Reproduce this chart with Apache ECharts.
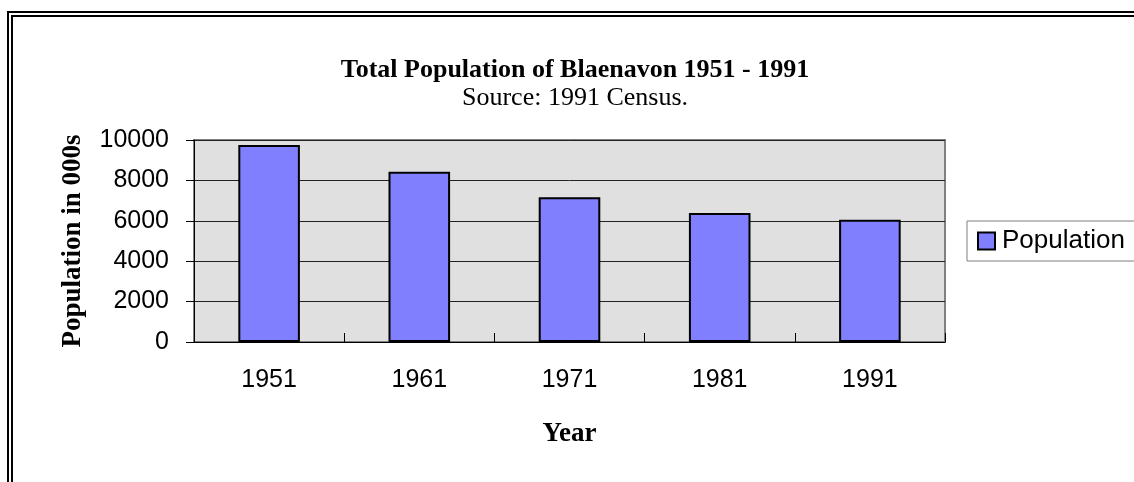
<!DOCTYPE html>
<html>
<head>
<meta charset="utf-8">
<script src="https://cdn.jsdelivr.net/npm/echarts@6/dist/echarts.min.js"></script>
<style>
html,body{margin:0;padding:0;background:#fff;}
#chart{width:1134px;height:482px;}
</style>
</head>
<body>
<div id="chart"></div>
<script>
const years = ['1951', '1961', '1971', '1981', '1991'];
const population = [9750, 8430, 7160, 6390, 6050];
const seriesName = 'Population';
const titleText = 'Total Population of Blaenavon 1951 - 1991';
const subtitleText = 'Source: 1991 Census.';
const xAxisName = 'Year';
const yAxisName = 'Population in 000s';
const yMin = 0, yMax = 10000, yStep = 2000;

const sans = '"Liberation Sans", Arial, sans-serif';
const serif = '"Liberation Serif", "Times New Roman", serif';

const chart = echarts.init(document.getElementById('chart'), null, {renderer: 'canvas'});
chart.setOption({
  animation: false,
  backgroundColor: '#ffffff',
  title: {
    text: titleText,
    subtext: subtitleText,
    left: 570,
    textAlign: 'center',
    top: 51,
    itemGap: 0,
    textStyle: {fontFamily: serif, fontWeight: 'bold', fontSize: 26, color: '#000', lineHeight: 28},
    subtextStyle: {fontFamily: serif, fontWeight: 'normal', fontSize: 26, color: '#000', lineHeight: 28}
  },
  legend: {
    left: 967,
    top: 221,
    orient: 'vertical',
    padding: [7, 10, 7, 10],
    borderColor: '#808080',
    borderWidth: 1,
    backgroundColor: '#fff',
    itemWidth: 17,
    itemHeight: 17,
    icon: 'rect',
    itemStyle: {borderColor: '#000', borderWidth: 2},
    textStyle: {fontFamily: sans, fontSize: 26, color: '#000', padding: [0, 0, 0, 2]},
    data: [seriesName]
  },
  grid: {
    left: 194, right: 189, top: 140, bottom: 140,
    show: true,
    backgroundColor: '#e0e0e0',
    borderColor: '#808080',
    borderWidth: 2
  },
  xAxis: {
    type: 'category',
    data: years,
    boundaryGap: true,
    name: xAxisName,
    nameLocation: 'middle',
    nameGap: 79,
    nameTextStyle: {fontFamily: serif, fontWeight: 'bold', fontSize: 27, color: '#000'},
    axisLine: {show: true, lineStyle: {color: '#000', width: 1}},
    axisTick: {show: true, inside: true, length: 9, lineStyle: {color: '#000'}},
    axisLabel: {fontFamily: sans, fontSize: 25, color: '#000', margin: 26},
    splitLine: {show: false}
  },
  yAxis: {
    type: 'value',
    min: yMin, max: yMax, interval: yStep,
    name: yAxisName,
    nameLocation: 'middle',
    nameGap: 107,
    nameTextStyle: {fontFamily: serif, fontWeight: 'bold', fontSize: 27, color: '#000'},
    axisLine: {show: true, lineStyle: {color: '#000', width: 1}},
    axisTick: {show: true, inside: false, length: 8, lineStyle: {color: '#000'}},
    axisLabel: {fontFamily: sans, fontSize: 25, color: '#000', margin: 25, formatter: v => String(v)},
    splitLine: {show: true, lineStyle: {color: '#222', width: 1}}
  },
  series: [{
    name: seriesName,
    type: 'bar',
    data: population,
    barCategoryGap: '59%',
    itemStyle: {color: '#8080ff', borderColor: '#000', borderWidth: 2}
  }],
  graphic: [
    {type: 'rect', silent: true, z: 100, shape: {x: 8, y: 12, width: 3000, height: 3000}, style: {fill: null, stroke: '#000', lineWidth: 2}},
    {type: 'rect', silent: true, z: 100, shape: {x: 12, y: 16, width: 3000, height: 3000}, style: {fill: null, stroke: '#000', lineWidth: 2}}
  ]
});
</script>
</body>
</html>
